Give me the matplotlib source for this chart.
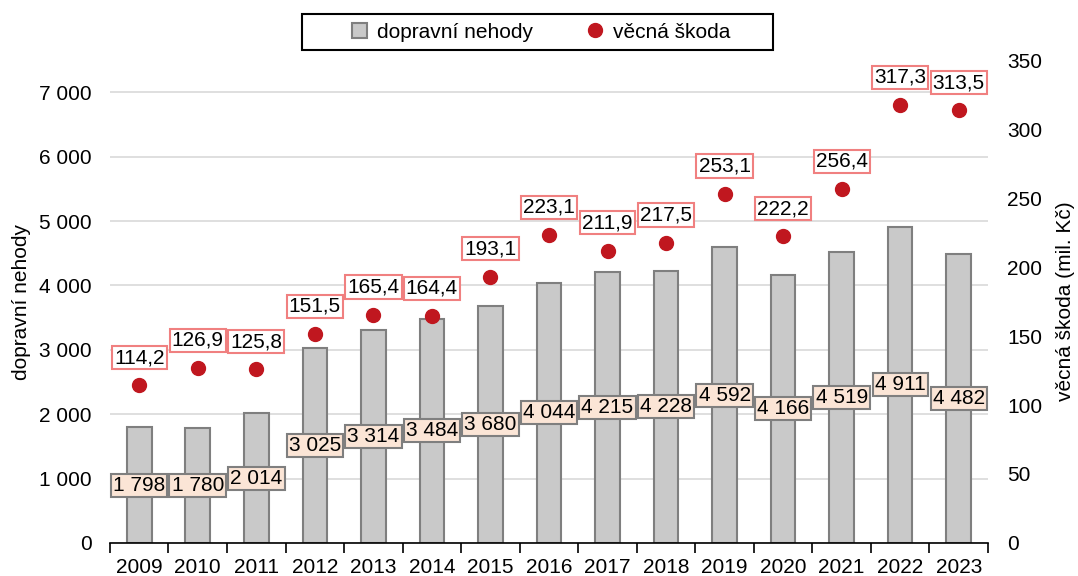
import matplotlib.pyplot as plt
import numpy as np
from matplotlib.patches import Rectangle

plt.rcParams['font.family'] = ['Liberation Sans', 'DejaVu Sans']

years = ['2009', '2010', '2011', '2012', '2013', '2014', '2015', '2016',
         '2017', '2018', '2019', '2020', '2021', '2022', '2023']
accidents = [1798, 1780, 2014, 3025, 3314, 3484, 3680, 4044,
             4215, 4228, 4592, 4166, 4519, 4911, 4482]
damage = [114.2, 126.9, 125.8, 151.5, 165.4, 164.4, 193.1, 223.1,
          211.9, 217.5, 253.1, 222.2, 256.4, 317.3, 313.5]


def fmt_int(v):
    return '{:,}'.format(v).replace(',', ' ')


def fmt_dec(v):
    return '{:.1f}'.format(v).replace('.', ',')


fig = plt.figure(figsize=(10.78, 5.76), dpi=100)
ax = fig.add_axes([0.102, 0.0573, 0.8145, 0.8385])
ax2 = ax.twinx()

x = np.arange(len(years))
fs = 15

# bars + gridlines on left axis
ax.set_axisbelow(True)
ax.yaxis.grid(True, color='#d9d9d9', linewidth=1.2)
ax.bar(x, accidents, width=0.42, color='#c9c9c9', edgecolor='#7f7f7f',
       linewidth=1.5, label='dopravní nehody', zorder=2)
for xi, v in zip(x, accidents):
    ax.text(xi, v / 2, fmt_int(v), ha='center', va='center', fontsize=fs,
            zorder=5,
            bbox=dict(boxstyle='square,pad=0.1', facecolor='#fbe5d6',
                      edgecolor='#7f7f7f', linewidth=1.5))

ax.set_xlim(-0.5, len(years) - 0.5)
ax.set_ylim(0, 7500)
ax.set_yticks(range(0, 7001, 1000))
ax.set_yticklabels([fmt_int(v) for v in range(0, 7001, 1000)], fontsize=fs)
ax.set_xticks(x)
ax.set_xticklabels(years, fontsize=fs)
ax.set_xticks(np.arange(-0.5, len(years), 1), minor=True)
ax.tick_params(axis='x', which='major', length=0, pad=11)
ax.tick_params(axis='x', which='minor', length=7, width=1.2, color='black')
ax.tick_params(axis='y', length=0, pad=13)
ax.set_ylabel('dopravní nehody', fontsize=fs, labelpad=6)
for s in ['top', 'left', 'right']:
    ax.spines[s].set_visible(False)
ax.spines['bottom'].set_linewidth(1.2)

# dots on right axis
ax2.plot(x, damage, 'o', color='#c0171f', markersize=10, linestyle='none',
         label='věcná škoda', zorder=3)
for xi, v in zip(x, damage):
    ax2.annotate(fmt_dec(v), (xi, v), xytext=(0, 20), textcoords='offset points',
                 ha='center', va='center', fontsize=fs, zorder=5,
                 bbox=dict(boxstyle='square,pad=0.1', facecolor='white',
                           edgecolor='#f08080', linewidth=1.5))
ax2.set_ylim(0, 350)
ax2.set_yticks(range(0, 351, 50))
ax2.tick_params(axis='y', length=0, pad=14, labelsize=fs)
ax2.set_ylabel('věcná škoda (mil. Kč)', fontsize=fs, labelpad=10)
for s in ['top', 'left', 'right', 'bottom']:
    ax2.spines[s].set_visible(False)

# legend with a wide box like the original
fig.patches.append(Rectangle((0.280, 0.913), 0.437, 0.0627, transform=fig.transFigure,
                             facecolor='white', edgecolor='black', linewidth=1.5))
h1, l1 = ax.get_legend_handles_labels()
h2, l2 = ax2.get_legend_handles_labels()
fig.legend(h1 + h2, l1 + l2, loc='center', bbox_to_anchor=(0.502, 0.944),
           ncol=2, fontsize=fs, frameon=False,
           handlelength=0.7, handleheight=0.7,
           columnspacing=2.6, handletextpad=0.5, borderaxespad=0)

fig.savefig('out.png', dpi=100)
